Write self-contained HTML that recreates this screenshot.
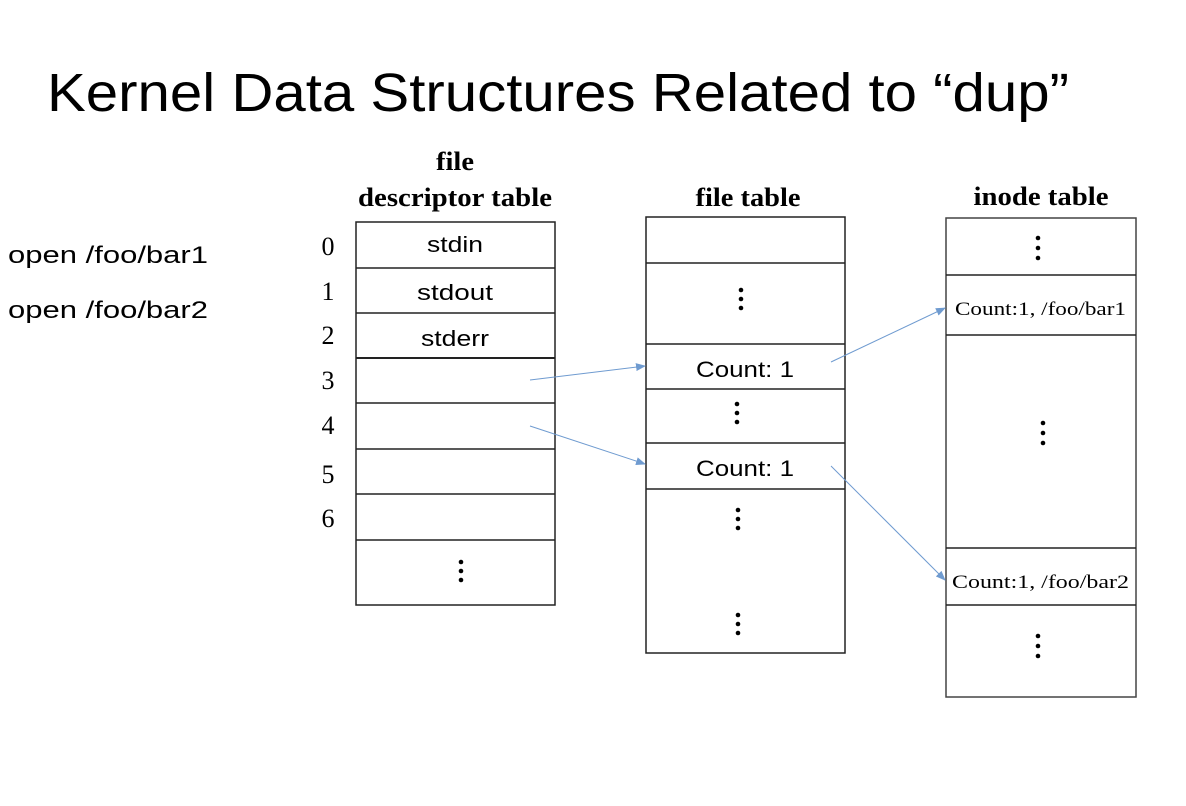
<!DOCTYPE html>
<html><head><meta charset="utf-8"><style>
html,body{margin:0;padding:0;background:#fff;}
svg{display:block;}
.t{font-family:"Liberation Sans",sans-serif;}
.s{font-family:"Liberation Serif",serif;}
</style></head><body>
<svg width="1186" height="806" viewBox="0 0 1186 806" xmlns="http://www.w3.org/2000/svg">
<defs><marker id="a" markerWidth="10" markerHeight="8" refX="9" refY="4" orient="auto" markerUnits="userSpaceOnUse"><path d="M0,0 L10,4 L0,8 z" fill="#6f9bd0"/></marker></defs>
<text x="47" y="111" class="t" font-size="54" textLength="1022" lengthAdjust="spacingAndGlyphs" fill="#000">Kernel Data Structures Related to “dup”</text>
<text x="8" y="263" class="t" font-size="24" textLength="200" lengthAdjust="spacingAndGlyphs">open  /foo/bar1</text>
<text x="8" y="318" class="t" font-size="24" textLength="200" lengthAdjust="spacingAndGlyphs">open  /foo/bar2</text>
<g class="s" font-size="26" font-weight="bold" text-anchor="middle">
<text x="455" y="170" textLength="38" lengthAdjust="spacingAndGlyphs">file</text>
<text x="455" y="206" textLength="194" lengthAdjust="spacingAndGlyphs">descriptor table</text>
<text x="748" y="206" textLength="105" lengthAdjust="spacingAndGlyphs">file table</text>
<text x="1041" y="205" textLength="135" lengthAdjust="spacingAndGlyphs">inode table</text>
</g>
<g class="s" font-size="26" text-anchor="middle">
<text x="328" y="255">0</text><text x="328" y="300">1</text><text x="328" y="344">2</text>
<text x="328" y="389">3</text><text x="328" y="434">4</text><text x="328" y="483">5</text><text x="328" y="527">6</text>
</g>
<g fill="none" stroke="#222" stroke-width="1.5">
<rect x="356" y="222" width="199" height="383"/>
<line x1="356" y1="268" x2="555" y2="268"/><line x1="356" y1="313" x2="555" y2="313"/>
<line x1="356" y1="358" x2="555" y2="358" stroke-width="2"/><line x1="356" y1="403" x2="555" y2="403"/>
<line x1="356" y1="449" x2="555" y2="449"/><line x1="356" y1="494" x2="555" y2="494"/>
<line x1="356" y1="540" x2="555" y2="540"/>
<rect x="646" y="217" width="199" height="436"/>
<line x1="646" y1="263" x2="845" y2="263"/><line x1="646" y1="344" x2="845" y2="344"/>
<line x1="646" y1="389" x2="845" y2="389"/><line x1="646" y1="443" x2="845" y2="443"/>
<line x1="646" y1="489" x2="845" y2="489"/>
<rect x="946" y="218" width="190" height="479" stroke="#444"/>
<line x1="946" y1="275" x2="1136" y2="275"/><line x1="946" y1="335" x2="1136" y2="335"/>
<line x1="946" y1="548" x2="1136" y2="548"/><line x1="946" y1="605" x2="1136" y2="605"/>
</g>
<g class="t" font-size="22" fill="#000">
<text x="427" y="252" textLength="56" lengthAdjust="spacingAndGlyphs">stdin</text>
<text x="417" y="300" textLength="76" lengthAdjust="spacingAndGlyphs">stdout</text>
<text x="421" y="346" textLength="68" lengthAdjust="spacingAndGlyphs">stderr</text>
<text x="696" y="377" textLength="98" lengthAdjust="spacingAndGlyphs">Count:  1</text>
<text x="696" y="476" textLength="98" lengthAdjust="spacingAndGlyphs">Count:  1</text>
</g>
<g class="s" font-size="19" fill="#000">
<text x="955" y="315" textLength="171" lengthAdjust="spacingAndGlyphs">Count:1,  /foo/bar1</text>
<text x="952" y="588" textLength="177" lengthAdjust="spacingAndGlyphs">Count:1,   /foo/bar2</text>
</g>
<g fill="#000">
<circle cx="461" cy="562" r="2.3"/><circle cx="461" cy="571" r="2.3"/><circle cx="461" cy="580" r="2.3"/>
<circle cx="741" cy="290" r="2.3"/><circle cx="741" cy="299" r="2.3"/><circle cx="741" cy="308" r="2.3"/>
<circle cx="737" cy="404" r="2.3"/><circle cx="737" cy="413" r="2.3"/><circle cx="737" cy="422" r="2.3"/>
<circle cx="738" cy="510" r="2.3"/><circle cx="738" cy="519" r="2.3"/><circle cx="738" cy="528" r="2.3"/>
<circle cx="738" cy="615" r="2.3"/><circle cx="738" cy="624" r="2.3"/><circle cx="738" cy="633" r="2.3"/>
<circle cx="1038" cy="238" r="2.3"/><circle cx="1038" cy="248" r="2.3"/><circle cx="1038" cy="258" r="2.3"/>
<circle cx="1043" cy="423" r="2.3"/><circle cx="1043" cy="433" r="2.3"/><circle cx="1043" cy="443" r="2.3"/>
<circle cx="1038" cy="636" r="2.3"/><circle cx="1038" cy="646" r="2.3"/><circle cx="1038" cy="656" r="2.3"/>
</g>
<g stroke="#6f9bd0" stroke-width="1" fill="none" marker-end="url(#a)">
<line x1="530" y1="380" x2="645" y2="366"/>
<line x1="530" y1="426" x2="645" y2="464"/>
<line x1="831" y1="362" x2="945" y2="308"/>
<line x1="831" y1="466" x2="945" y2="580"/>
</g>
</svg>
</body></html>
